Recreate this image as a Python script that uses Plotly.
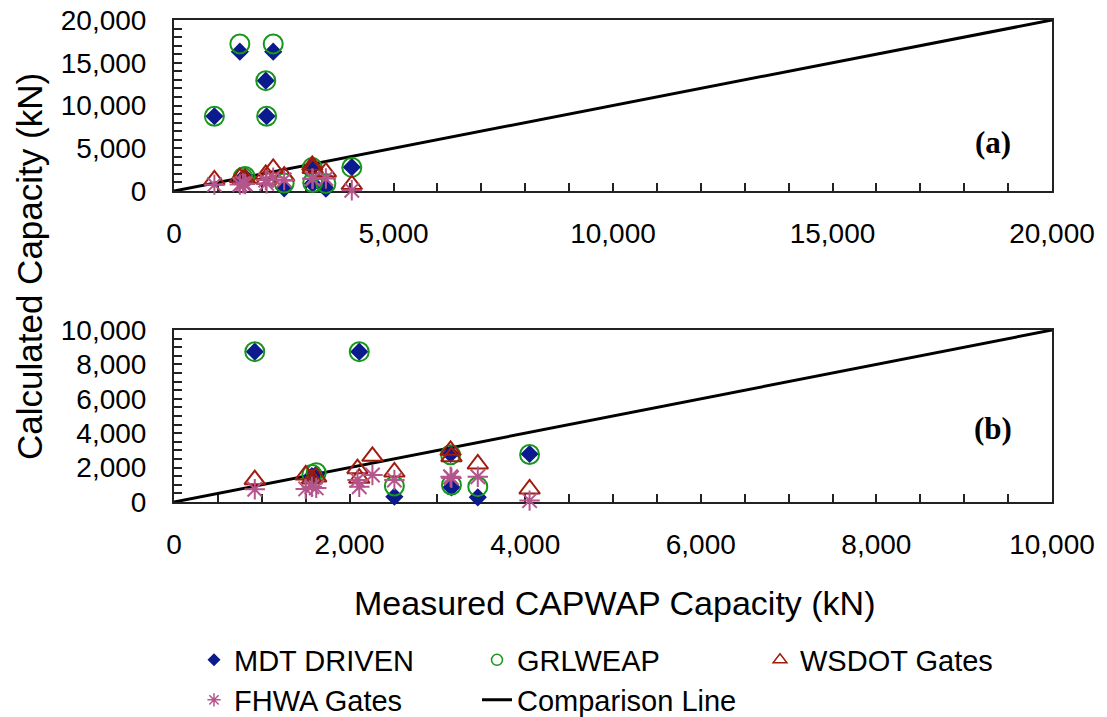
import plotly.graph_objects as go

# Measured CAPWAP capacity (kN) for each pile
measured = [920, 1500, 1570, 1620, 2090, 2110, 2260, 2510, 3150, 3160, 3460, 4050]
# Calculated capacities (kN)
mdt_driven = [8740, 16300, 1500, 1600, 12900, 8740, 16300, 310, 2790, 855, 270, 2790]
grlweap = [8740, 17200, 1600, 1700, 12900, 8740, 17200, 930, 2740, 990, 890, 2760]
wsdot_gates = [1300, 1570, 1340, 1450, 1940, 1380, 2655, 1745, 3005, 2635, 2210, 755]
fhwa_gates = [740, 760, 890, 820, 1280, 890, 1570, 1280, 1470, 1400, 1470, 80]
comparison_a = [0, 20000]
comparison_b = [0, 10000]

FONT = "Arial, Liberation Sans, sans-serif"
SERIF = "Times New Roman, Liberation Serif, serif"
C_MDT = "#0B1A8C"
C_GRL = "#16961A"
C_WS = "#A01C0C"
C_FH = "#B4558C"

# The page body has an 8px margin, so the figure is drawn 8px in from the corner.
OFF = 8
W, H = 1107 - OFF, 717 - OFF
L = 174 - OFF
T = 20 - OFF
R = W - (1052 - OFF)
B = H - (502 - OFF)
PH = H - T - B
PW = W - L - R

def py(p):  # reference pixel y -> paper
    return (H - B - (p - OFF)) / PH

def px(p):  # reference pixel x -> paper
    return ((p - OFF) - L) / PW

fig = go.Figure()

for xa, ya, comp in [("x", "y", comparison_a), ("x2", "y2", comparison_b)]:
    fig.add_trace(go.Scatter(x=comp, y=comp, mode="lines", line=dict(color="black", width=3),
                             xaxis=xa, yaxis=ya, showlegend=False, cliponaxis=False))
    fig.add_trace(go.Scatter(x=measured, y=mdt_driven, mode="markers", xaxis=xa, yaxis=ya,
                             marker=dict(symbol="diamond", size=14, color=C_MDT, line=dict(width=0)),
                             showlegend=False, cliponaxis=False))
    fig.add_trace(go.Scatter(x=measured, y=grlweap, mode="markers", xaxis=xa, yaxis=ya,
                             marker=dict(symbol="circle-open", size=19, color=C_GRL, line=dict(width=2, color=C_GRL)),
                             showlegend=False, cliponaxis=False))
    fig.add_trace(go.Scatter(x=measured, y=wsdot_gates, mode="markers", xaxis=xa, yaxis=ya,
                             marker=dict(symbol="triangle-up-open", size=18, color=C_WS, line=dict(width=2, color=C_WS)),
                             showlegend=False, cliponaxis=False))
    fig.add_trace(go.Scatter(x=measured, y=fhwa_gates, mode="markers", xaxis=xa, yaxis=ya,
                             marker=dict(symbol="asterisk-open", size=17, color=C_FH, line=dict(width=2, color=C_FH)),
                             showlegend=False, cliponaxis=False))

# legend-only entries
fig.add_trace(go.Scatter(x=[None], y=[None], mode="markers", name="MDT DRIVEN", legend="legend",
                         marker=dict(symbol="diamond", size=10, color=C_MDT)))
fig.add_trace(go.Scatter(x=[None], y=[None], mode="markers", name="GRLWEAP", legend="legend",
                         marker=dict(symbol="circle-open", size=11, color=C_GRL, line=dict(width=1.5, color=C_GRL))))
fig.add_trace(go.Scatter(x=[None], y=[None], mode="markers", name="WSDOT Gates", legend="legend",
                         marker=dict(symbol="triangle-up-open", size=12, color=C_WS, line=dict(width=1.5, color=C_WS))))
fig.add_trace(go.Scatter(x=[None], y=[None], mode="markers", name="FHWA Gates", legend="legend2",
                         marker=dict(symbol="asterisk-open", size=11, color=C_FH, line=dict(width=1.5, color=C_FH))))
fig.add_trace(go.Scatter(x=[None], y=[None], mode="lines", name="Comparison Line", legend="legend2",
                         line=dict(color="black", width=3)))

axis_common = dict(showline=True, linecolor="#222", linewidth=2, mirror=True, ticks="inside",
                   ticklen=8, tickcolor="#222", tickwidth=1.5, showgrid=False, zeroline=False,
                   tickformat=",", layer="below traces", automargin=False,
                   ticklabeloverflow="allow",
                   tickfont=dict(family=FONT, size=28, color="black"))
minor_common = dict(ticks="inside", ticklen=8, tickcolor="#222", tickwidth=1.5)

legend_common = dict(orientation="h", xanchor="left", yanchor="middle",
                     font=dict(family=FONT, size=29, color="black"), entrywidth=238,
                     entrywidthmode="pixels", bgcolor="rgba(0,0,0,0)", itemsizing="trace")

fig.update_layout(
    width=W, height=H, margin=dict(l=L, r=R, t=T, b=B, autoexpand=False),
    plot_bgcolor="white", paper_bgcolor="white",
    xaxis=dict(axis_common, domain=[0, 1], range=[0, 20000], dtick=5000, anchor="y",
               minor=dict(minor_common, dtick=1000), ticklabelstandoff=16),
    yaxis=dict(axis_common, domain=[py(191), 1], range=[0, 20000], dtick=5000, anchor="x",
               minor=dict(minor_common, dtick=1000), ticklabelstandoff=20),
    xaxis2=dict(axis_common, domain=[0, 1], range=[0, 10000], dtick=2000, anchor="y2",
                minor=dict(minor_common, dtick=500), ticklabelstandoff=16),
    yaxis2=dict(axis_common, domain=[0, py(330)], range=[0, 10000], dtick=2000, anchor="x2",
                minor=dict(minor_common, dtick=500), ticklabelstandoff=20),
    legend=dict(legend_common, x=px(194), y=py(660)),
    legend2=dict(legend_common, x=px(194), y=py(700)),
    annotations=[
        dict(text="<b>(a)</b>", xref="paper", yref="paper", x=px(993), y=py(142), showarrow=False,
             xanchor="center", yanchor="middle", font=dict(family=SERIF, size=31, color="black")),
        dict(text="<b>(b)</b>", xref="paper", yref="paper", x=px(993), y=py(428), showarrow=False,
             xanchor="center", yanchor="middle", font=dict(family=SERIF, size=31, color="black")),
        dict(text="Calculated Capacity (kN)", xref="paper", yref="paper", x=px(29), y=py(267),
             textangle=-90, showarrow=False, xanchor="center", yanchor="middle",
             font=dict(family=FONT, size=35, color="black")),
        dict(text="Measured CAPWAP Capacity (kN)", xref="paper", yref="paper", x=px(615), y=py(603),
             showarrow=False, xanchor="center", yanchor="middle",
             font=dict(family=FONT, size=34, color="black")),
    ],
)

fig.write_html("out.html")
